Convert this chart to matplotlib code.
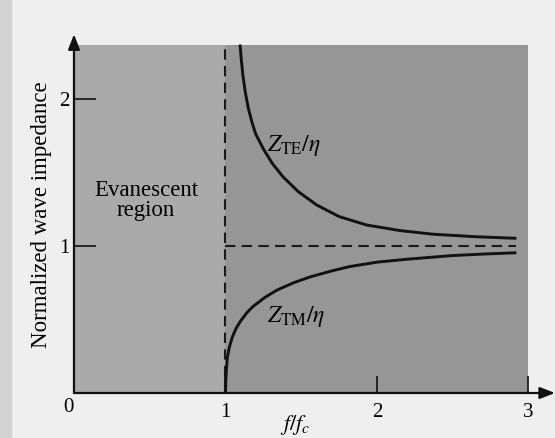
import numpy as np
import matplotlib
matplotlib.use("Agg")
import matplotlib.pyplot as plt
from matplotlib.patches import Rectangle

plt.rcParams['font.family'] = ['Liberation Serif', 'DejaVu Serif']
plt.rcParams['mathtext.fontset'] = 'stix'

# curves (f/fc, normalized impedance)
te_x = [1.096, 1.105, 1.115, 1.13, 1.15, 1.175, 1.2, 1.25, 1.31, 1.38, 1.48, 1.6,
        1.75, 1.93, 2.15, 2.37, 2.65, 2.92]
te_y = [2.37, 2.26, 2.16, 2.05, 1.94, 1.84, 1.76, 1.66, 1.56, 1.47, 1.37, 1.28,
        1.20, 1.143, 1.105, 1.08, 1.063, 1.052]

tm_x = [1.0, 1.002, 1.006, 1.012, 1.025, 1.045, 1.07, 1.1, 1.14, 1.18, 1.26, 1.34,
        1.45, 1.56, 1.7, 1.82, 2.0, 2.2, 2.5, 2.7, 2.92]
tm_y = [0.0, 0.08, 0.16, 0.24, 0.31, 0.38, 0.44, 0.49, 0.545, 0.587, 0.65, 0.70,
        0.75, 0.79, 0.83, 0.86, 0.89, 0.91, 0.935, 0.945, 0.954]

cutoff = 1.0
x_end = 3.0
y_top = 2.37
curve_end = 2.92

xticks = [1, 2, 3]
yticks = [1, 2]

fig = plt.figure(figsize=(5.55, 4.38), dpi=100, facecolor='#efefef')
fig.patches.append(Rectangle((0, 0), 0.02, 1, transform=fig.transFigure,
                             color='#d2d2d2', zorder=0))
ax = fig.add_axes([74 / 555, 45 / 438, 481 / 555, 393 / 438])
ax.set_xlim(0, 3.175)
ax.set_ylim(0, 2.673)
ax.patch.set_visible(False)
for s in ax.spines.values():
    s.set_visible(False)

# shaded regions
ax.fill_between([0, cutoff], 0, y_top, color='#aaaaaa', lw=0, zorder=1)
ax.fill_between([cutoff, x_end], 0, y_top, color='#969696', lw=0, zorder=1)

# dashed guides
ax.plot([cutoff, cutoff], [0, y_top], color='#1a1a1a', lw=1.5, ls=(0, (5, 3)), zorder=3)
ax.plot([cutoff, curve_end], [1, 1], color='#1a1a1a', lw=1.5, ls=(0, (5, 3)), zorder=3)

# impedance curves
ax.plot(te_x, te_y, color='#111111', lw=2.1, zorder=4, solid_capstyle='butt')
ax.plot(tm_x, tm_y, color='#111111', lw=2.1, zorder=4, solid_capstyle='butt')

# axes with arrows
arrow = dict(arrowstyle='-|>,head_length=0.9,head_width=0.35',
             color='#111111', lw=1.6, shrinkA=0, shrinkB=0)
ax.annotate('', xy=(0, 2.44), xytext=(0, 0), annotation_clip=False,
            arrowprops=arrow, zorder=5)
ax.annotate('', xy=(3.175, 0), xytext=(0, 0), annotation_clip=False,
            arrowprops=arrow, zorder=5)

ax.set_xticks(xticks)
ax.set_xticklabels([str(t) for t in xticks])
ax.set_yticks(yticks)
ax.set_yticklabels([str(t) for t in yticks])
ax.tick_params(axis='x', direction='in', length=12, width=1.2, color='#111111',
               labelsize=15, pad=7)
ax.tick_params(axis='y', direction='in', length=16, width=1.2, color='#111111',
               labelsize=15, pad=3)
ax.text(-0.04, -0.1, '0', fontsize=15, ha='center', va='center')

ax.text(1.46, -0.22, r'$f/f_c$', fontsize=16, ha='center', va='center')
ax.text(-0.0686, 0.453, 'Normalized wave impedance', fontsize=16.5,
        rotation=90, ha='center', va='center', transform=ax.transAxes)

ax.text(0.475, 1.31, 'Evanescent\nregion', fontsize=16.5, ha='center', va='center',
        linespacing=0.9)
ax.text(1.275, 1.68, r'$Z_{\rm TE}/\eta$', fontsize=17, ha='left', va='center')
ax.text(1.275, 0.52, r'$Z_{\rm TM}/\eta$', fontsize=17, ha='left', va='center')

fig.savefig('out.png', dpi=100, facecolor=fig.get_facecolor())
